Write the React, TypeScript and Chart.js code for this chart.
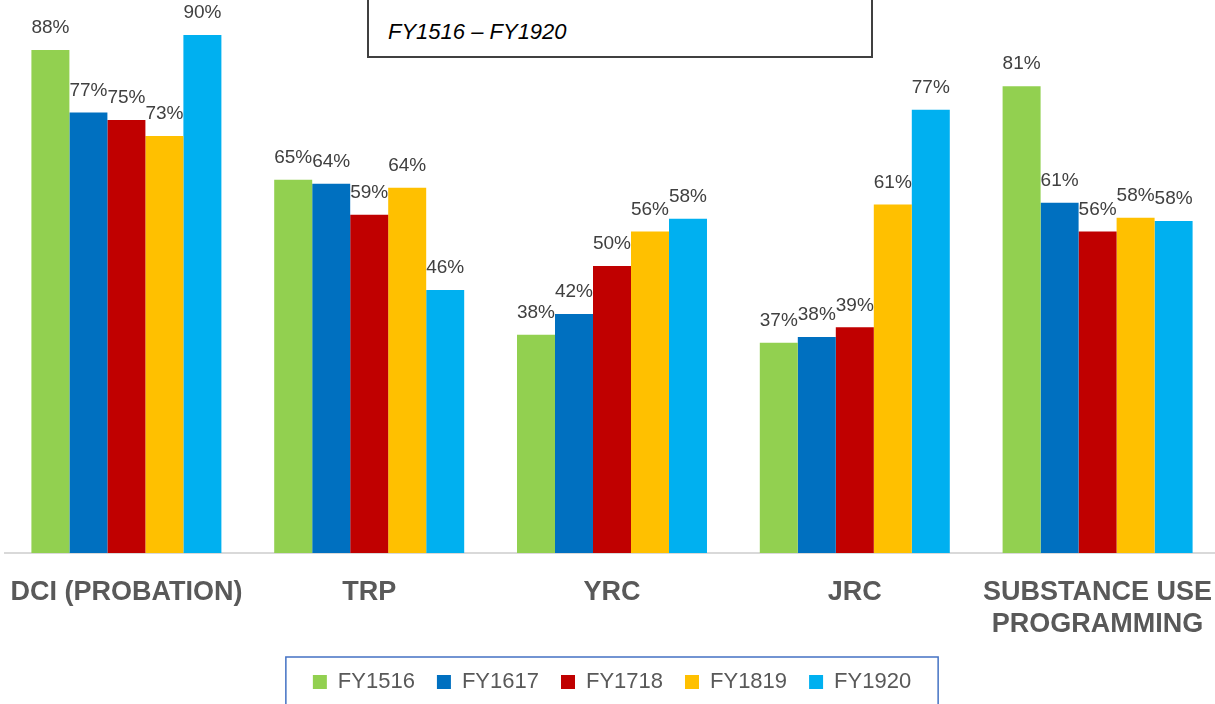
import React, { useEffect, useRef } from "react";
import { Chart, registerables } from "chart.js";

Chart.register(...registerables);

const categories: (string | string[])[] = [
  "DCI (PROBATION)",
  "TRP",
  "YRC",
  "JRC",
  ["SUBSTANCE USE", "PROGRAMMING"],
];

const seriesNames = ["FY1516", "FY1617", "FY1718", "FY1819", "FY1920"];
const seriesColors = ["#92D050", "#0070C0", "#C00000", "#FFC000", "#00B0F0"];

const fy1516 = [87.6, 65.0, 38.0, 36.6, 81.3];
const fy1617 = [76.7, 64.3, 41.6, 37.6, 61.0];
const fy1718 = [75.4, 58.9, 50.0, 39.3, 56.0];
const fy1819 = [72.6, 63.6, 56.0, 60.7, 58.4];
const fy1920 = [90.2, 45.8, 58.2, 77.2, 57.8];

const seriesValues = [fy1516, fy1617, fy1718, fy1819, fy1920];

const subtitle = "FY1516 – FY1920";

const FONT = '"Liberation Sans", Arial, sans-serif';

const valueLabels = {
  id: "valueLabels",
  afterDatasetsDraw(chart: any) {
    const ctx = chart.ctx;
    ctx.save();
    ctx.font = `19px ${FONT}`;
    ctx.fillStyle = "#404040";
    ctx.textAlign = "center";
    ctx.textBaseline = "middle";
    chart.data.datasets.forEach((ds: any, di: number) => {
      const meta = chart.getDatasetMeta(di);
      meta.data.forEach((el: any, i: number) => {
        const v = ds.data[i];
        ctx.fillText(Math.round(v) + "%", el.x, el.y - 22);
      });
    });
    ctx.restore();
  },
};

const legendFrame = {
  id: "legendFrame",
  afterDraw(chart: any) {
    const lg = chart.legend;
    if (!lg || !lg.legendHitBoxes || !lg.legendHitBoxes.length) return;
    const hb = lg.legendHitBoxes;
    const first = hb[0];
    const last = hb[hb.length - 1];
    const left = first.left - 27;
    const right = last.left + last.width + 27;
    const top = lg.top + 8;
    const ctx = chart.ctx;
    ctx.save();
    ctx.strokeStyle = "#4472C4";
    ctx.lineWidth = 1.5;
    ctx.strokeRect(left, top, right - left, chart.height - top + 10);
    ctx.restore();
  },
};

export default function App() {
  const canvasRef = useRef<HTMLCanvasElement | null>(null);

  useEffect(() => {
    if (!canvasRef.current) return;
    const chart = new Chart(canvasRef.current, {
      type: "bar",
      data: {
        labels: categories,
        datasets: seriesNames.map((name, i) => ({
          label: name,
          data: seriesValues[i],
          backgroundColor: seriesColors[i],
          borderWidth: 0,
          categoryPercentage: 0.7825,
          barPercentage: 1,
        })),
      },
      options: {
        responsive: false,
        animation: false,
        layout: { padding: { left: 5, right: 0, top: 0, bottom: 1 } },
        scales: {
          x: {
            grid: { display: false, drawTicks: false },
            border: { display: true, color: "#D9D9D9", width: 2 },
            ticks: {
              color: "#595959",
              font: { family: FONT, size: 27, weight: "bold", lineHeight: 1.2 },
              padding: 23,
              maxRotation: 0,
              minRotation: 0,
              autoSkip: false,
            },
            afterFit: (s: any) => {
              s.height = 96;
              s.paddingLeft = 0;
              s.paddingRight = 0;
            },
          },
          y: {
            display: false,
            min: 0,
            max: 96.3,
          },
        },
        plugins: {
          legend: {
            position: "bottom",
            labels: {
              color: "#595959",
              font: { family: FONT, size: 22 },
              boxWidth: 14,
              boxHeight: 14,
              padding: 22,
            },
          },
          tooltip: { enabled: false },
        },
      },
      plugins: [valueLabels, legendFrame],
    });
    return () => chart.destroy();
  }, []);

  return (
    <div
      style={{
        position: "fixed",
        left: 0,
        top: 0,
        width: 1215,
        height: 704,
        overflow: "hidden",
        background: "#ffffff",
      }}
    >
      <canvas ref={canvasRef} width={1219} height={704} style={{ display: "block" }} />
      <div
        style={{
          position: "absolute",
          left: 367,
          top: -20,
          width: 502,
          height: 74,
          border: "2px solid #404040",
          background: "#ffffff",
          boxSizing: "content-box",
        }}
      >
        <div
          style={{
            position: "absolute",
            left: 19,
            top: 37,
            fontFamily: FONT,
            fontStyle: "italic",
            fontSize: 22,
            lineHeight: "26px",
            color: "#000000",
            whiteSpace: "nowrap",
          }}
        >
          {subtitle}
        </div>
      </div>
    </div>
  );
}
